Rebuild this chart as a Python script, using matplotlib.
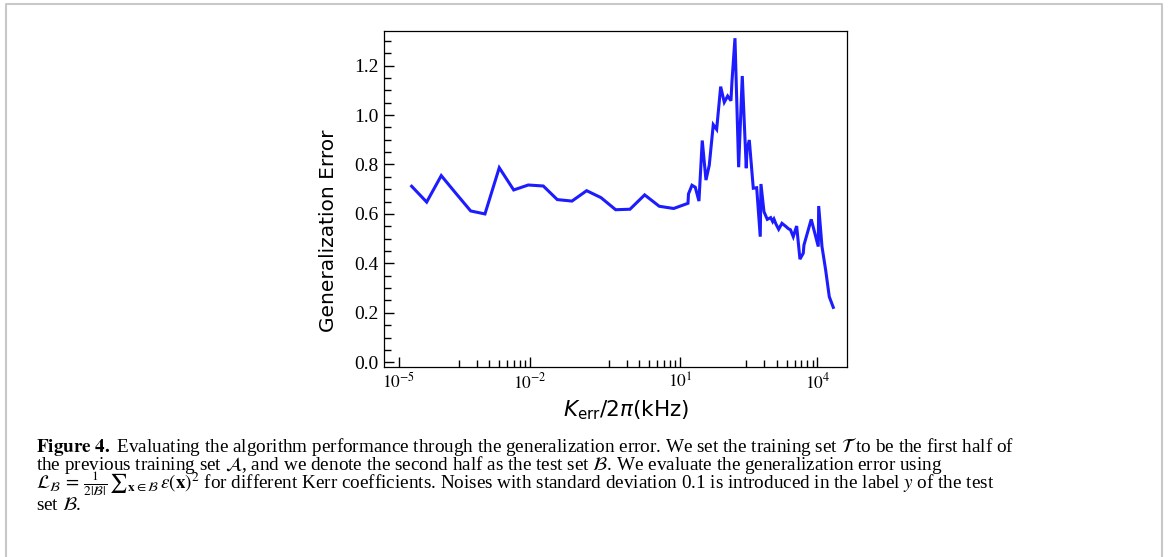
import numpy as np
import matplotlib.pyplot as plt
from matplotlib.ticker import FixedLocator, FixedFormatter, MultipleLocator
from matplotlib.lines import Line2D

plt.rcParams['font.family'] = 'Liberation Serif'

log_k = [-4.727, -4.404, -4.090, -3.774, -3.457, -3.150, -2.842, -2.532, -2.218,
         -1.895, -1.594, -1.278, -0.962, -0.654, -0.338, -0.030, 0.286, 0.600,
         0.910, 1.218, 1.229, 1.304, 1.375, 1.454, 1.525, 1.605, 1.676, 1.762,
         1.835, 1.921, 1.999, 2.072, 2.143, 2.164, 2.229, 2.308, 2.386, 2.472,
         2.487, 2.537, 2.623, 2.696, 2.773, 2.788, 2.853, 2.924, 2.997, 3.040,
         3.068, 3.111, 3.169, 3.240, 3.326, 3.380, 3.423, 3.483, 3.556, 3.627,
         3.698, 3.713, 3.870, 4.021, 4.030, 4.101, 4.180, 4.258, 4.344]
gen_error = [0.712, 0.648, 0.755, 0.683, 0.612, 0.600, 0.787, 0.697, 0.717,
             0.713, 0.658, 0.652, 0.694, 0.666, 0.617, 0.619, 0.677, 0.631,
             0.622, 0.643, 0.681, 0.716, 0.708, 0.652, 0.897, 0.737, 0.797, 0.961,
             0.942, 1.115, 1.052, 1.077, 1.058, 1.135, 1.311, 0.789, 1.158, 0.785,
             0.859, 0.899, 0.704, 0.706, 0.508, 0.721, 0.609, 0.578, 0.585, 0.569,
             0.579, 0.559, 0.538, 0.562, 0.549, 0.540, 0.536, 0.508, 0.551, 0.417,
             0.441, 0.474, 0.578, 0.468, 0.632, 0.468, 0.373, 0.265, 0.222]
k_kerr = 10 ** np.array(log_k)

x_tick_labels = [r'$10^{-5}$', r'$10^{-2}$', r'$10^{1}$', r'$10^{4}$']

caption_lines = [
    r'$\mathbf{Figure\ 4.}$ Evaluating the algorithm performance through the generalization error. '
    r'We set the training set $\mathcal{T}$ to be the first half of',
    r'the previous training set $\mathcal{A}$, and we denote the second half as the test set '
    r'$\mathcal{B}$. We evaluate the generalization error using',
    r'$\mathcal{L}_{\mathcal{B}} \/=\/ \frac{1}{2|\mathcal{B}|}\,{\sum}_{\mathbf{x}\in\mathcal{B}}\,'
    r'\varepsilon(\mathbf{x})^2$ for different Kerr coefficients. Noises with standard deviation '
    r'0.1 is introduced in the label $y$ of the test',
    r'set $\mathcal{B}$.',
]

fig = plt.figure(figsize=(11.68, 5.57), dpi=100)
ax = fig.add_axes([0.329, 0.3417, 0.3964, 0.6026])

ax.plot(k_kerr, gen_error, color='#1c1cff', lw=2.2, solid_joinstyle='miter')

ax.set_xscale('log')
ax.set_xlim(10 ** -5.316, 10 ** 4.645)
ax.set_ylim(-0.018, 1.34)

# the tick marks in the original sit a little off the true decades
major_u = np.array([-5.0, -2.182, 1.046, 4.0])
ax.xaxis.set_major_locator(FixedLocator(10 ** major_u))
ax.xaxis.set_major_formatter(FixedFormatter(x_tick_labels))
minor_u = [u - np.log10(10 / k) * 2.194 for u in major_u[1:] for k in range(2, 10)]
ax.xaxis.set_minor_locator(FixedLocator(10 ** np.array(minor_u)))
ax.xaxis.set_minor_formatter(FixedFormatter([]))

ax.yaxis.set_major_locator(MultipleLocator(0.2))
ax.yaxis.set_minor_locator(MultipleLocator(0.05))
ax.yaxis.set_major_formatter(plt.FormatStrFormatter('%.1f'))

ax.tick_params(which='both', direction='in', top=False, right=False, width=1.0)
ax.tick_params(which='major', length=7.2)
ax.tick_params(which='minor', length=4.8)
ax.tick_params(axis='y', labelsize=14, pad=4)
ax.tick_params(axis='x', labelsize=12.5, pad=4)
for lab in ax.get_xticklabels():
    lab.set_math_fontfamily('stix')
for s in ax.spines.values():
    s.set_linewidth(0.9)

ax.set_ylabel('Generalization Error', family='DejaVu Sans', fontsize=14.5)
ax.yaxis.set_label_coords(-0.10, 0.404)
ax.set_xlabel(r'$K_{\rm err}/2\pi$(kHz)', family='DejaVu Sans', fontsize=15.5,
              math_fontfamily='dejavusans')
ax.xaxis.set_label_coords(0.522, -0.095)

# frame around the whole figure (bottom edge is cut off)
fig.add_artist(Line2D([0.0049, 0.0049, 0.9949, 0.9949], [-0.01, 0.9928, 0.9928, -0.01],
                      transform=fig.transFigure, color='#c8c8c8', lw=1.5))

baselines = [0.189, 0.1562, 0.123, 0.0844]
for line, yb in zip(caption_lines, baselines):
    fig.text(0.0306, yb, line, fontsize=13.8, va='baseline', ha='left',
             math_fontfamily='stix')

fig.savefig('out.png', dpi=100)
